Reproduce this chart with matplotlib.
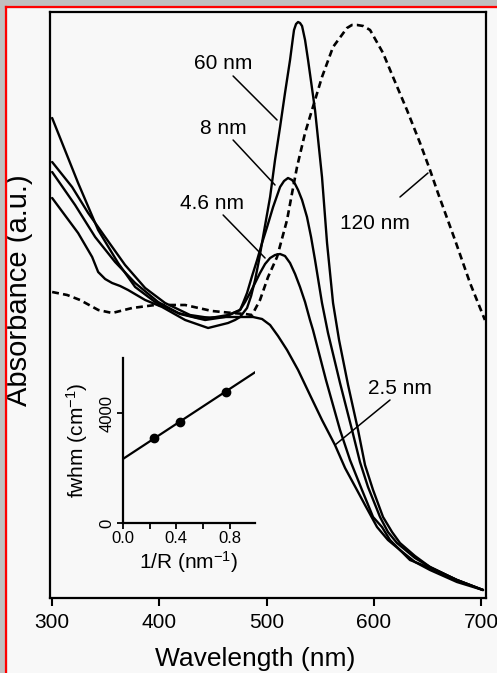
import matplotlib
matplotlib.use("Agg")
import matplotlib.pyplot as plt
from matplotlib.patches import Rectangle
from matplotlib.lines import Line2D

plt.rcParams['font.family'] = ['Liberation Sans', 'DejaVu Sans']
plt.rcParams['mathtext.fontset'] = 'custom'
plt.rcParams['mathtext.rm'] = 'Liberation Sans'
plt.rcParams['mathtext.it'] = 'Liberation Sans:italic'

# spectra: wavelength (nm) / absorbance (a.u.)
wl_25 = [300, 324.2, 342.9, 361.5, 377.4, 396.0, 417.4, 436.1, 461.2, 487.3,
         495.7, 503.2, 510.6, 519.0, 529.3, 540.4, 551.6, 563.7, 573.1, 584.2,
         591.7, 602.9, 613.1, 624.3, 638.3, 652.3, 677.4, 701.7]
abs_25 = [4.80, 4.15, 3.68, 3.35, 3.11, 2.96, 2.85, 2.80, 2.81, 2.81,
          2.79, 2.73, 2.62, 2.48, 2.28, 2.03, 1.78, 1.53, 1.30, 1.08,
          0.93, 0.71, 0.58, 0.48, 0.36, 0.28, 0.16, 0.08]

wl_46 = [300, 321.4, 340.1, 358.7, 377.4, 398.8, 419.3, 442.6, 461.2, 475.2,
         479.9, 484.5, 489.2, 493.8, 498.5, 503.2, 507.8, 512.5, 517.1, 521.8,
         526.5, 531.1, 535.8, 540.4, 543.2, 555.3, 568.4, 577.7, 588.9, 599.2,
         607.5, 615.0, 633.6, 652.3, 677.4, 701.7]
abs_46 = [4.26, 3.93, 3.61, 3.36, 3.15, 2.96, 2.84, 2.78, 2.81, 2.88,
          2.96, 3.05, 3.15, 3.25, 3.34, 3.40, 3.43, 3.44, 3.42, 3.35,
          3.24, 3.11, 2.96, 2.78, 2.68, 2.18, 1.68, 1.38, 1.08, 0.81,
          0.71, 0.58, 0.38, 0.30, 0.18, 0.08]

wl_8 = [300, 318.6, 333.6, 349.4, 368.0, 386.7, 405.3, 428.6, 447.2, 464.0,
        475.2, 478.0, 481.7, 486.4, 491.1, 495.7, 500.4, 506.0, 512.5, 516.2,
        519.9, 523.7, 526.5, 529.3, 533.0, 537.6, 541.4, 545.1, 551.6, 557.2,
        568.4, 579.6, 587.0, 594.5, 605.7, 613.1, 621.5, 638.3, 652.3, 677.4,
        701.7]
abs_8 = [4.36, 4.11, 3.85, 3.61, 3.33, 3.10, 2.95, 2.83, 2.80, 2.83,
         2.88, 2.95, 3.05, 3.22, 3.38, 3.55, 3.71, 3.91, 4.11, 4.17,
         4.20, 4.18, 4.14, 4.08, 3.98, 3.81, 3.61, 3.38, 2.95, 2.65,
         2.15, 1.68, 1.36, 1.11, 0.81, 0.66, 0.55, 0.40, 0.31, 0.18,
         0.08]

wl_60 = [300, 324.2, 337.3, 342.9, 349.4, 355.9, 363.4, 370.8, 386.7, 402.5,
         424.0, 445.4, 464.0, 470.5, 475.2, 481.7, 485.5, 489.2, 492.9, 496.6,
         503.2, 507.8, 512.5, 517.1, 521.8, 524.6, 525.5, 527.4, 529.3, 531.1,
         533.0, 535.8, 538.6, 545.1, 551.6, 556.3, 561.9, 567.5, 575.9, 585.2,
         591.7, 599.2, 608.5, 616.9, 624.3, 638.3, 652.3, 677.4, 701.7]
abs_60 = [4.00, 3.65, 3.41, 3.26, 3.19, 3.15, 3.12, 3.08, 2.98, 2.91,
          2.78, 2.70, 2.75, 2.78, 2.81, 2.90, 3.02, 3.18, 3.38, 3.61,
          4.01, 4.38, 4.71, 5.05, 5.38, 5.61, 5.68, 5.74, 5.76, 5.75,
          5.72, 5.58, 5.38, 4.88, 4.21, 3.55, 2.95, 2.58, 2.13, 1.68,
          1.33, 1.08, 0.81, 0.66, 0.55, 0.42, 0.31, 0.18, 0.08]

wl_120 = [300, 314, 326, 343, 356, 374.6, 396, 424, 449, 468, 480, 486.4,
          493.8, 501.3, 509.7, 519.0, 523.7, 528.3, 535.8, 545.1, 551.6, 561.9,
          574.9, 579.5, 584.3, 590.0, 596.4, 608.5, 617.8, 630.8, 643.0, 652.3,
          659.7, 675.6, 689.6, 703.5]
abs_120 = [3.06, 3.03, 2.98, 2.88, 2.85, 2.90, 2.93, 2.93, 2.87, 2.85, 2.84, 2.83,
           2.98, 3.21, 3.41, 3.78, 4.05, 4.31, 4.65, 4.98, 5.21, 5.51,
           5.70, 5.73, 5.73, 5.72, 5.68, 5.45, 5.21, 4.88, 4.55, 4.28,
           4.05, 3.58, 3.15, 2.78]

# inset: fwhm vs 1/R
inv_r = [0.23, 0.43, 0.77]
fwhm = [3090, 3680, 4770]
fit_x = [0.0, 0.99]
fit_y = [2330, 5480]

bg = '#f8f8f8'
fig = plt.figure(figsize=(4.97, 6.73), dpi=100, facecolor=bg)

# grey frame with red edge (top and left)
fig.patches.append(Rectangle((0, 1 - 6.5 / 673), 1, 6.5 / 673, transform=fig.transFigure,
                             color='#c0c0c0', zorder=0))
fig.patches.append(Rectangle((0, 0), 5.5 / 497, 1, transform=fig.transFigure,
                             color='#c0c0c0', zorder=0))
fig.lines.append(Line2D([5.5 / 497, 1], [1 - 7.3 / 673, 1 - 7.3 / 673], transform=fig.transFigure,
                        color='#ff0000', lw=1.6))
fig.lines.append(Line2D([6.3 / 497, 6.3 / 497], [0, 1 - 7 / 673], transform=fig.transFigure,
                        color='#ff0000', lw=1.6))

ax = fig.add_axes([50 / 497, 75 / 673, 436 / 497, 586 / 673], facecolor=bg)
lw = 1.7
for x, y in [(wl_25, abs_25), (wl_46, abs_46), (wl_8, abs_8), (wl_60, abs_60)]:
    ax.plot(x, y, color='black', lw=lw, solid_joinstyle='round', solid_capstyle='round')
ax.plot(wl_120, abs_120, color='black', lw=1.9, linestyle=(0, (2.6, 1.6)))

ax.set_xlim(298, 704.5)
ax.set_ylim(0, 5.86)
ax.set_xticks([300, 400, 500, 600, 700])
ax.set_yticks([])
ax.tick_params(axis='x', direction='out', length=6, width=1.5, pad=5, labelsize=15)
for s in ax.spines.values():
    s.set_linewidth(1.6)

ax.set_xlabel('Wavelength (nm)', fontsize=19)
ax.xaxis.set_label_coords(0.47, -0.083)
ax.set_ylabel('Absorbance (a.u.)', fontsize=21)
ax.yaxis.set_label_coords(-0.038, 0.526)

arrow = dict(arrowstyle='-', color='black', lw=1.1, shrinkA=0, shrinkB=0)
ax.annotate('', xy=(509.7, 4.78), xytext=(468.7, 5.22), arrowprops=arrow)
ax.text(459.4, 5.35, '60 nm', fontsize=15, ha='center', va='center')
ax.annotate('', xy=(507.8, 4.13), xytext=(468.7, 4.58), arrowprops=arrow)
ax.text(459.4, 4.70, '8 nm', fontsize=15, ha='center', va='center')
ax.annotate('', xy=(498.5, 3.40), xytext=(459.4, 3.83), arrowprops=arrow)
ax.text(449.1, 3.95, '4.6 nm', fontsize=15, ha='center', va='center')
ax.annotate('', xy=(650.4, 4.25), xytext=(624.3, 4.01), arrowprops=arrow)
ax.text(601.0, 3.75, '120 nm', fontsize=15, ha='center', va='center')
ax.annotate('', xy=(563.7, 1.53), xytext=(615.0, 1.98), arrowprops=arrow)
ax.text(624.3, 2.10, '2.5 nm', fontsize=15, ha='center', va='center')

# inset
ins = fig.add_axes([123 / 497, 150 / 673, 132 / 497, 165 / 673], facecolor=bg)
ins.plot(fit_x, fit_y, color='black', lw=1.6)
ins.plot(inv_r, fwhm, 'o', color='black', markersize=6)
ins.set_xlim(0, 0.99)
ins.set_ylim(0, 6000)
ins.spines['top'].set_visible(False)
ins.spines['right'].set_visible(False)
for s in ['left', 'bottom']:
    ins.spines[s].set_linewidth(1.6)
ins.set_xticks([0.0, 0.4, 0.8])
ins.set_xticklabels(['0.0', '0.4', '0.8'])
ins.set_xticks([0.2, 0.6], minor=True)
ins.set_yticks([0, 4000])
ins.tick_params(which='both', direction='out', length=4, width=1.3, labelsize=12, pad=2)
for t in ins.get_yticklabels():
    t.set_rotation(90)
    t.set_va('center')
ins.set_xlabel('1/R (nm$^{-1}$)', fontsize=15, labelpad=2)
ins.set_ylabel('fwhm (cm$^{-1}$)', fontsize=15, labelpad=7)

fig.savefig('out.png', dpi=100, facecolor=bg)
